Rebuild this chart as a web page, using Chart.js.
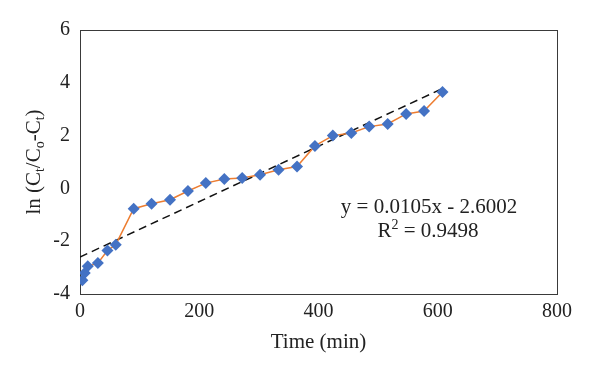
<!DOCTYPE html>
<html>
<head>
<meta charset="utf-8">
<script src="https://cdn.jsdelivr.net/npm/chart.js@4"></script>
<style>
  html, body { margin: 0; padding: 0; background: #fff; }
  #wrap { width: 600px; height: 375px; }
</style>
</head>
<body>
<div id="wrap"><canvas id="kineticChart"></canvas></div>
<script>
// data
const timeMin = [4, 8, 13, 30, 46, 60, 90, 120, 151, 181, 211, 242, 272, 302, 333, 364, 394, 424, 455, 485, 516, 547, 577, 608];
const lnValues = [-3.48, -3.20, -2.95, -2.83, -2.35, -2.13, -0.77, -0.58, -0.43, -0.10, 0.20, 0.36, 0.39, 0.52, 0.71, 0.83, 1.61, 2.00, 2.10, 2.34, 2.44, 2.82, 2.93, 3.65];
const fitSlope = 0.0105;
const fitIntercept = -2.6002;
const fitR2 = '0.9498';
const fitRange = [0, 608];
const xTicks = [0, 200, 400, 600, 800];
const yTicks = [-4, -2, 0, 2, 4, 6];

const serif = "'Liberation Serif', 'DejaVu Serif', serif";

const points = timeMin.map((t, i) => ({ x: t, y: lnValues[i] }));
const trend = fitRange.map(t => ({ x: t, y: fitSlope * t + fitIntercept }));

// box around plot, y title with subscripts, equation text
const extras = {
    id: 'extras',
    beforeDatasetsDraw(chart) {
        const a = chart.chartArea;
        const c = chart.ctx;
        c.save();
        c.strokeStyle = '#3a3a3a';
        c.lineWidth = 1;
        c.strokeRect(Math.round(a.left) + 0.5, Math.round(a.top) + 0.5,
            Math.round(a.right - a.left), Math.round(a.bottom - a.top));
        c.restore();
    },
    afterDraw(chart) {
        const c = chart.ctx;
        c.save();
        c.fillStyle = '#222';
        // y axis title
        const parts = [
            ['ln (C', false], ['t', true], ['/C', false], ['o', true], ['-C', false], ['t', true], [')', false]
        ];
        const big = '21px ' + serif, small = '14px ' + serif;
        let total = 0;
        parts.forEach(p => { c.font = p[1] ? small : big; total += c.measureText(p[0]).width; });
        c.translate(40, 162);
        c.rotate(-Math.PI / 2);
        c.textBaseline = 'alphabetic';
        c.textAlign = 'left';
        let x = -total / 2;
        parts.forEach(p => {
            c.font = p[1] ? small : big;
            c.fillText(p[0], x, p[1] ? 4 : 0);
            x += c.measureText(p[0]).width;
        });
        c.setTransform(1, 0, 0, 1, 0, 0);

        // equation
        c.font = big;
        c.textAlign = 'center';
        c.fillText('y = ' + fitSlope.toFixed(4) + 'x - ' + Math.abs(fitIntercept).toFixed(4), 429, 213);
        const r1 = 'R', r2 = ' = ' + fitR2;
        c.font = big;
        const w1 = c.measureText(r1).width, w3 = c.measureText(r2).width;
        c.font = small;
        const w2 = c.measureText('2').width;
        let sx = 428 - (w1 + w2 + w3) / 2;
        c.textAlign = 'left';
        c.font = big;
        c.fillText(r1, sx, 237);
        c.font = small;
        c.fillText('2', sx + w1, 229);
        c.font = big;
        c.fillText(r2, sx + w1 + w2, 237);
        c.restore();
    }
};

const ctx = document.getElementById('kineticChart').getContext('2d');
new Chart(ctx, {
    type: 'scatter',
    data: {
        datasets: [
            {
                label: 'ln',
                data: points,
                showLine: true,
                borderColor: '#ED7D31',
                borderWidth: 1.5,
                pointStyle: 'rectRot',
                pointRadius: 6,
                pointBackgroundColor: '#4472C4',
                pointBorderColor: '#4472C4',
                pointBorderWidth: 0,
                order: 1
            },
            {
                label: 'fit',
                data: trend,
                showLine: true,
                borderColor: '#111',
                borderWidth: 1.5,
                borderDash: [8, 5],
                pointRadius: 0,
                order: 2
            }
        ]
    },
    options: {
        responsive: true,
        maintainAspectRatio: false,
        animation: false,
        layout: { padding: { left: 0, top: 30, right: 43, bottom: 0 } },
        plugins: {
            legend: { display: false },
            tooltip: { enabled: false }
        },
        scales: {
            x: {
                type: 'linear',
                min: 0,
                max: 800,
                afterFit: s => { s.height = 81; },
                afterBuildTicks: s => { s.ticks = xTicks.map(v => ({ value: v })); },
                grid: { display: false, drawTicks: false },
                border: { display: false },
                ticks: { padding: 6, color: '#222', font: { family: serif, size: 20 } },
                title: {
                    display: true,
                    text: 'Time (min)',
                    color: '#222',
                    font: { family: serif, size: 21 },
                    padding: { top: 0, bottom: 20 }
                }
            },
            y: {
                min: -4,
                max: 6,
                afterFit: s => { s.width = 80; },
                afterBuildTicks: s => { s.ticks = yTicks.map(v => ({ value: v })); },
                grid: { display: false, drawTicks: false },
                border: { display: false },
                ticks: { padding: 10, color: '#222', font: { family: serif, size: 20 } }
            }
        }
    },
    plugins: [extras]
});
</script>
</body>
</html>
